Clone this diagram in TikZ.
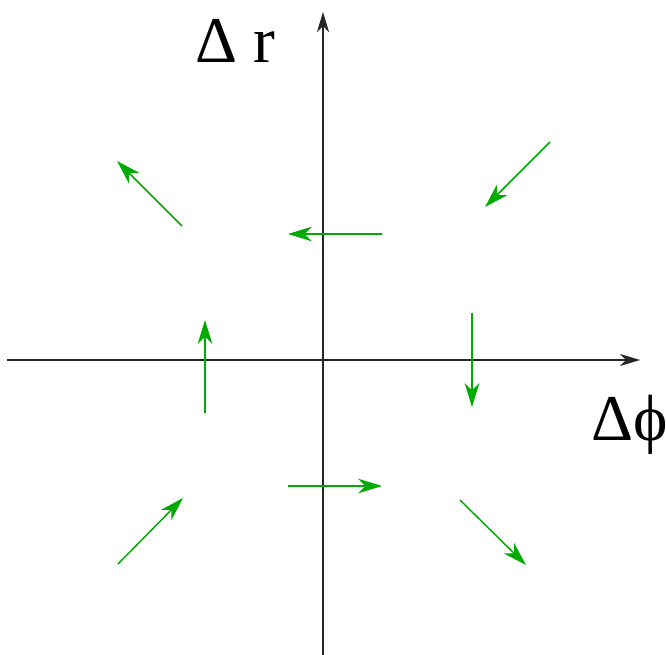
\documentclass[tikz,border=0pt]{standalone}
\usepackage{fontspec}
\setmainfont{Liberation Serif}
\usetikzlibrary{arrows.meta}
\definecolor{fieldGreen}{RGB}{0,170,0}

\begin{document}
\begin{tikzpicture}[
  x=0.75pt, y=-0.75pt,
  axis/.style={line width=0.8pt, draw=black!85, -{Stealth[length=15pt, width=9pt, inset=4.5pt]}},
  flow/.style={line width=1.1pt, draw=fieldGreen, fill=fieldGreen,
    -{Stealth[length=18pt, width=11pt, inset=5.5pt]}},
  biglabel/.style={font=\fontsize{49}{59}\selectfont, inner sep=0pt, anchor=base west}
]
\useasboundingbox (0,0) rectangle (666,655);

% Axes.
\coordinate (xstart) at (7,360);
\coordinate (xend) at (640,360);
\coordinate (ystart) at (323,655);
\coordinate (yend) at (323,12);
\draw[axis] (xstart) -- (xend);
\draw[axis] (ystart) -- (yend);

\node[biglabel] (rlabel) at (195,63) {Δ r};
\node[biglabel] (philabel) at (591,440) {Δϕ};

% Upper half.
\coordinate (ur0) at (550,142);
\coordinate (ur1) at (485,207);
\coordinate (ul0) at (182,226);
\coordinate (ul1) at (117,161);
\coordinate (um0) at (382,234);
\coordinate (um1) at (288,234);

% Sides.
\coordinate (rm0) at (472,313);
\coordinate (rm1) at (472,407);
\coordinate (lm0) at (205,413);
\coordinate (lm1) at (205,320);

% Lower half.
\coordinate (lo0) at (288,486);
\coordinate (lo1) at (382,486);
\coordinate (ll0) at (118,564);
\coordinate (ll1) at (183,498);
\coordinate (lr0) at (460,500);
\coordinate (lr1) at (526,565);

\draw[flow] (ur0) -- (ur1);
\draw[flow] (ul0) -- (ul1);
\draw[flow] (um0) -- (um1);
\draw[flow] (rm0) -- (rm1);
\draw[flow] (lm0) -- (lm1);
\draw[flow] (lo0) -- (lo1);
\draw[flow] (ll0) -- (ll1);
\draw[flow] (lr0) -- (lr1);

\end{tikzpicture}
\end{document}
